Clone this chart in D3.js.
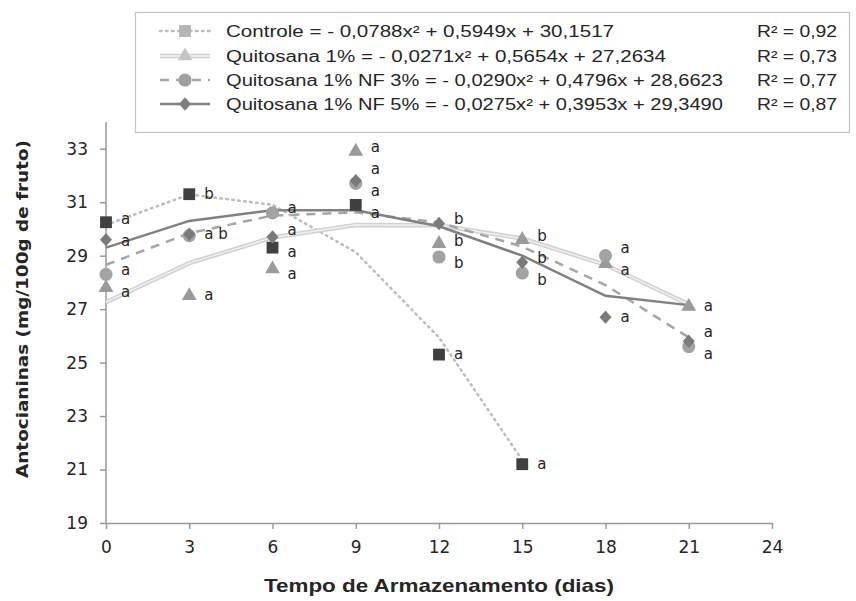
<!DOCTYPE html>
<html>
<head>
<meta charset="utf-8">
<title></title>
<script src="https://cdn.jsdelivr.net/npm/d3@7"></script>
<style>
  body { margin: 0; background: #fff; }
  text { fill: #262626; }
</style>
</head>
<body>
<div id="grafico"></div>
<script>
// dados
var dias = [0, 3, 6, 9, 12, 15, 18, 21];
var diasControle = [0, 3, 6, 9, 12, 15];

var controle  = [30.25, 31.3, 29.3, 30.9, 25.3, 21.2];
var quitosana = [27.8, 27.5, 28.5, 32.9, 29.45, 29.6, 28.7, 27.1];
var nf3       = [28.3, 29.75, 30.6, 31.7, 28.95, 28.35, 29.0, 25.6];
var nf5       = [29.6, 29.8, 29.7, 31.8, 30.2, 28.75, 26.7, 25.8];

var tendControle  = [30.15, 31.29, 30.9, 29.13, 25.94, 21.35];
var tendQuitosana = [27.26, 28.72, 29.68, 30.15, 30.14, 29.64, 28.66, 27.18];
var tendNf3       = [28.66, 29.84, 30.5, 30.62, 30.24, 29.34, 27.9, 25.94];
var tendNf5       = [29.3, 30.3, 30.7, 30.7, 30.1, 29.0, 27.5, 27.15];

// letras (teste de medias)
var letrasControle  = ["a", "b", "a", "a", "a", "a"];
var letrasQuitosana = ["a", "a", "a", "a", "b", "b", "a", "a"];
var letrasNf3       = ["a", "", "a", "a", "b", "b", "a", "a"];
var letrasNf5       = ["a", "a b", "a", "a", "b", "b", "a", "a"];

var legendaNomes = [
  "Controle = - 0,0788x\u00b2 + 0,5949x + 30,1517",
  "Quitosana 1% = - 0,0271x\u00b2 + 0,5654x + 27,2634",
  "Quitosana 1% NF 3% = - 0,0290x\u00b2 + 0,4796x + 28,6623",
  "Quitosana 1% NF 5% = - 0,0275x\u00b2 + 0,3953x + 29,3490"
];
var legendaLarg = [388, 440, 497, 497];
var legendaR2 = ["R\u00b2 = 0,92", "R\u00b2 = 0,73", "R\u00b2 = 0,77", "R\u00b2 = 0,87"];

var xTicks = [0, 3, 6, 9, 12, 15, 18, 21, 24];
var yTicks = [19, 21, 23, 25, 27, 29, 31, 33];

var w = 856, h = 601;
var svg = d3.select("#grafico").append("svg").attr("width", w).attr("height", h);

var x = d3.scaleLinear().domain([0, 24]).range([106, 772]);
var y = d3.scaleLinear().domain([19, 34]).range([523, 122]);

var series = [
  { xs: diasControle, v: controle, t: tendControle, l: letrasControle, sym: d3.symbolSquare, size: 140, cor: "#404040",
    leg: "#b5b5b5", stroke: "#bcbcbc", width: 2.5, dash: "1.5,4.5", round: true, rot: "" },
  { xs: dias, v: quitosana, t: tendQuitosana, l: letrasQuitosana, sym: d3.symbolTriangle, size: 95, cor: "#9a9a9a",
    leg: "#c4c4c4", stroke: "#d2d2d2", width: 4.5, dash: null, dupla: true, rot: "" },
  { xs: dias, v: nf3, t: tendNf3, l: letrasNf3, sym: d3.symbolCircle, size: 135, cor: "#a3a3a3",
    leg: "#a0a0a0", stroke: "#a6a6a6", width: 2.5, dash: "9,7", rot: "" },
  { xs: dias, v: nf5, t: tendNf5, l: letrasNf5, sym: d3.symbolSquare, size: 72, cor: "#7a7a7a",
    leg: "#808080", stroke: "#808080", width: 2.5, dash: null, rot: " scale(1,1.12) rotate(45)" }
];

// eixos
var eixoX = svg.append("g").attr("transform", "translate(0," + y(19) + ")")
  .call(d3.axisBottom(x).tickValues(xTicks).tickSizeInner(6).tickSizeOuter(0).tickPadding(12));
var eixoY = svg.append("g").attr("transform", "translate(" + x(0) + ",0)")
  .call(d3.axisLeft(y).tickValues(yTicks).tickSizeInner(6).tickSizeOuter(0).tickPadding(12));
[eixoX, eixoY].forEach(function (g) {
  g.select(".domain").attr("stroke", "#9a9a9a").attr("stroke-width", 1.5);
  g.selectAll(".tick line").attr("stroke", "#9a9a9a").attr("stroke-width", 1.5);
  g.selectAll(".tick text").attr("font-family", "DejaVu Sans").attr("font-size", 17).attr("fill", "#2a2a2a");
});
eixoY.select(".domain").attr("d", "M0," + y(34) + "V" + y(19));

svg.append("text").attr("x", 439).attr("y", 592).attr("text-anchor", "middle")
  .attr("font-family", "Liberation Sans").attr("font-weight", "bold").attr("font-size", 19)
  .attr("textLength", 350).attr("lengthAdjust", "spacingAndGlyphs")
  .text("Tempo de Armazenamento (dias)");
svg.append("text").attr("transform", "translate(28,309) rotate(-90)").attr("text-anchor", "middle")
  .attr("font-family", "DejaVu Sans").attr("font-weight", "bold").attr("font-size", 16)
  .attr("textLength", 338).attr("lengthAdjust", "spacingAndGlyphs")
  .text("Antocianinas  (mg/100g de fruto)");

// linhas de tendencia
function desenhaLinha(g, s, px, py) {
  var linha = d3.line().x(function (d, i) { return px[i]; }).y(function (d) { return d; });
  if (s.dupla) {
    g.append("path").datum(py).attr("d", linha).attr("fill", "none")
      .attr("stroke", s.stroke).attr("stroke-width", s.width);
    g.append("path").datum(py).attr("d", linha).attr("fill", "none")
      .attr("stroke", "#f3f3f3").attr("stroke-width", 1.3);
  } else {
    g.append("path").datum(py).attr("d", linha).attr("fill", "none")
      .attr("stroke", s.stroke).attr("stroke-width", s.width)
      .attr("stroke-dasharray", s.dash).attr("stroke-linecap", s.round ? "round" : "butt");
  }
}
var gLinhas = svg.append("g");
series.forEach(function (s) {
  desenhaLinha(gLinhas, s, s.xs.map(function (d) { return x(d); }), s.t.map(function (d) { return y(d); }));
});

// marcadores
series.forEach(function (s) {
  svg.append("g").selectAll("path").data(s.v).enter().append("path")
    .attr("d", d3.symbol().type(s.sym).size(s.size))
    .attr("transform", function (d, i) { return "translate(" + x(s.xs[i]) + "," + y(d) + ")" + s.rot; })
    .attr("fill", s.cor);
});

// letras: agrupa por dia e afasta para nao sobrepor
var grupos = {};
series.forEach(function (s) {
  s.v.forEach(function (d, i) {
    if (!s.l[i]) return;
    var k = s.xs[i];
    (grupos[k] = grupos[k] || []).push({ dia: k, py: y(d), ly: y(d), txt: s.l[i] });
  });
});
var rotulos = [];
Object.keys(grupos).forEach(function (k) {
  var g = grupos[k].sort(function (a, b) { return a.py - b.py; });
  for (var it = 0; it < 60; it++) {
    for (var i = 1; i < g.length; i++) {
      var d = g[i].ly - g[i - 1].ly;
      if (d < 22) { var sh = (22 - d) / 2; g[i - 1].ly -= sh; g[i].ly += sh; }
    }
  }
  rotulos = rotulos.concat(g);
});
svg.append("g").selectAll("text").data(rotulos).enter().append("text")
  .attr("x", function (d) { return x(d.dia) + 15; })
  .attr("y", function (d) { return d.ly; })
  .attr("dy", "0.3em")
  .attr("font-family", "DejaVu Sans").attr("font-size", 15).attr("fill", "#1a1a1a")
  .text(function (d) { return d.txt; });

// legenda
var leg = svg.append("g");
leg.append("rect").attr("x", 135.5).attr("y", 12.5).attr("width", 714).attr("height", 120)
  .attr("fill", "#fff").attr("stroke", "#c4c4c4").attr("stroke-width", 1.2);
var linhaY = [31, 56, 80, 104];
series.forEach(function (s, i) {
  var yy = linhaY[i];
  desenhaLinha(leg, s, [160, 210], [yy, yy]);
  leg.append("path").attr("d", d3.symbol().type(s.sym).size(s.size))
    .attr("transform", "translate(185," + yy + ")" + s.rot).attr("fill", s.leg);
  leg.append("text").attr("x", 226).attr("y", yy).attr("dy", "0.36em")
    .attr("font-family", "Liberation Sans").attr("font-size", 16)
    .attr("textLength", legendaLarg[i]).attr("lengthAdjust", "spacingAndGlyphs")
    .text(legendaNomes[i]);
  leg.append("text").attr("x", 757).attr("y", yy).attr("dy", "0.36em")
    .attr("font-family", "Liberation Sans").attr("font-size", 16)
    .attr("textLength", 80).attr("lengthAdjust", "spacingAndGlyphs")
    .text(legendaR2[i]);
});
</script>
</body>
</html>
